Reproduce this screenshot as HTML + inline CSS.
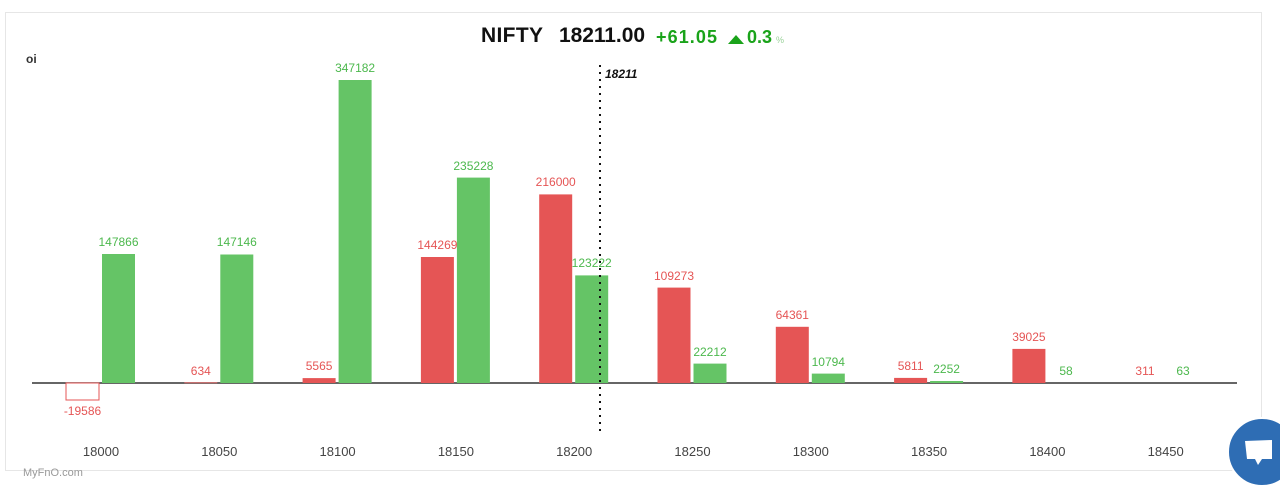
<!DOCTYPE html><html><head><style>body{margin:0;background:#fff;width:1280px;height:497px;overflow:hidden;font-family:"Liberation Sans",sans-serif}</style></head><body>
<svg width="1280" height="497" xmlns="http://www.w3.org/2000/svg" font-family="Liberation Sans, sans-serif">
<rect x="5.5" y="12.5" width="1256" height="458" fill="#fff" stroke="#e6e6e6"/>
<text x="481" y="42" font-size="21" font-weight="bold" fill="#111" textLength="62">NIFTY</text>
<text x="559" y="42" font-size="21" font-weight="bold" fill="#111" textLength="86">18211.00</text>
<text x="656" y="43" font-size="18" font-weight="bold" fill="#1aa31a" textLength="61">+61.05</text>
<polygon points="728,44 744,44 736,35" fill="#1aa31a"/>
<text x="747" y="43" font-size="18" font-weight="bold" fill="#1aa31a">0.3</text>
<text x="776" y="43" font-size="9" fill="#9ad29a">%</text>
<text x="26" y="63" font-size="12" font-weight="bold" fill="#333">oi</text>
<line x1="32" y1="383" x2="1237" y2="383" stroke="#333" stroke-width="1.5"/>
<g fill="#e55555">
<rect x="66" y="383" width="33" height="17" fill="#fff" stroke="#e55555"/>
<rect x="184.3" y="382.4" width="33" height="0.8"/>
<rect x="302.6" y="378.1" width="33" height="4.9"/>
<rect x="420.9" y="257" width="33" height="126"/>
<rect x="539.2" y="194.4" width="33" height="188.6"/>
<rect x="657.5" y="287.6" width="33" height="95.4"/>
<rect x="775.8" y="326.8" width="33" height="56.2"/>
<rect x="894.1" y="377.9" width="33" height="5.1"/>
<rect x="1012.4" y="348.9" width="33" height="34.1"/>
</g>
<g fill="#65c466">
<rect x="102" y="254" width="33" height="129"/>
<rect x="220.3" y="254.5" width="33" height="128.5"/>
<rect x="338.6" y="80" width="33" height="303"/>
<rect x="456.9" y="177.6" width="33" height="205.4"/>
<rect x="575.2" y="275.4" width="33" height="107.6"/>
<rect x="693.5" y="363.6" width="33" height="19.4"/>
<rect x="811.8" y="373.6" width="33" height="9.4"/>
<rect x="930.1" y="381" width="33" height="2"/>
</g>
<g font-size="12" fill="#e55555" text-anchor="middle">
<text x="82.5" y="415">-19586</text>
<text x="200.8" y="375">634</text>
<text x="319.1" y="370">5565</text>
<text x="437.4" y="249">144269</text>
<text x="555.7" y="186">216000</text>
<text x="674" y="280">109273</text>
<text x="792.3" y="319">64361</text>
<text x="910.6" y="370">5811</text>
<text x="1028.9" y="341">39025</text>
<text x="1145" y="375">311</text>
</g>
<g font-size="12" fill="#4cb84d" text-anchor="middle">
<text x="118.5" y="246">147866</text>
<text x="236.8" y="246">147146</text>
<text x="355.1" y="72">347182</text>
<text x="473.4" y="170">235228</text>
<text x="591.7" y="267">123222</text>
<text x="710" y="356">22212</text>
<text x="828.3" y="366">10794</text>
<text x="946.6" y="373">2252</text>
<text x="1066" y="375">58</text>
<text x="1183" y="375">63</text>
</g>
<line x1="600" y1="65" x2="600" y2="436" stroke="#111" stroke-width="2" stroke-dasharray="2,5"/>
<text x="605" y="78" font-size="12" font-style="italic" font-weight="bold" fill="#111">18211</text>
<g font-size="13" fill="#444" text-anchor="middle">
<text x="101" y="456">18000</text><text x="219.3" y="456">18050</text><text x="337.6" y="456">18100</text><text x="455.9" y="456">18150</text><text x="574.2" y="456">18200</text><text x="692.5" y="456">18250</text><text x="810.8" y="456">18300</text><text x="929.1" y="456">18350</text><text x="1047.4" y="456">18400</text><text x="1165.7" y="456">18450</text>
</g>
<text x="23" y="476" font-size="11" fill="#999">MyFnO.com</text>
<circle cx="1262" cy="452" r="34" fill="#2e6db4" stroke="#fff" stroke-width="2"/>
<polygon points="1245,441 1272,440 1272,459 1262,459 1258,465 1255,459 1247,459" fill="#fff"/>
</svg>
</body></html>
